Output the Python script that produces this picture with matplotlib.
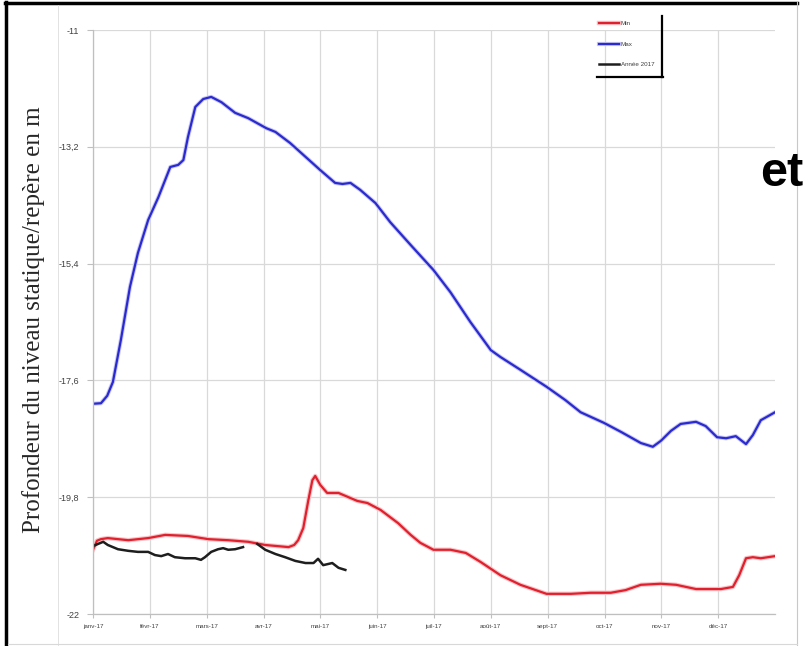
import matplotlib
matplotlib.use("Agg")
import matplotlib.pyplot as plt
import numpy as np
from matplotlib.lines import Line2D
import matplotlib.patheffects as pe

# ---------------- data (x in months since 1 Jan 2017) ----------------
month_labels = ["janv-17", "févr-17", "mars-17", "avr-17", "mai-17", "juin-17",
                "juil-17", "août-17", "sept-17", "oct-17", "nov-17", "déc-17"]
y_ticks = [-11, -13.2, -15.4, -17.6, -19.8, -22]
y_tick_labels = ["-11", "-13,2", "-15,4", "-17,6", "-19,8", "-22"]

max_x = [0, 0.14, 0.25, 0.35, 0.49, 0.65, 0.79, 0.97, 1.15, 1.36, 1.50, 1.59, 1.67,
         1.80, 1.94, 2.08, 2.26, 2.50, 2.73, 3.05, 3.21, 3.47, 3.74, 4.00, 4.26,
         4.39, 4.53, 4.70, 4.97, 5.23, 5.59, 5.99, 6.29, 6.64, 7.00, 7.17, 7.52,
         7.98, 8.31, 8.58, 8.99, 9.29, 9.64, 9.85, 9.99, 10.17, 10.34, 10.61,
         10.78, 10.98, 11.14, 11.31, 11.49, 11.61, 11.75, 12.0]
max_y = [-18.04, -18.03, -17.89, -17.63, -16.84, -15.84, -15.20, -14.58, -14.15,
         -13.58, -13.54, -13.45, -13.02, -12.45, -12.30, -12.26, -12.36, -12.56,
         -12.66, -12.85, -12.92, -13.13, -13.39, -13.64, -13.88, -13.90, -13.88,
         -14.01, -14.26, -14.62, -15.05, -15.52, -15.94, -16.50, -17.03, -17.16,
         -17.40, -17.72, -17.97, -18.20, -18.40, -18.57, -18.78, -18.85, -18.74,
         -18.55, -18.42, -18.38, -18.46, -18.67, -18.69, -18.65, -18.80, -18.63,
         -18.35, -18.20]

min_x = [0, 0.07, 0.14, 0.26, 0.62, 0.97, 1.27, 1.67, 2.03, 2.38, 2.73, 3.03, 3.44,
         3.54, 3.61, 3.70, 3.79, 3.86, 3.91, 4.00, 4.12, 4.32, 4.65, 4.83, 5.06,
         5.37, 5.59, 5.76, 5.99, 6.29, 6.56, 6.82, 7.17, 7.52, 7.98, 8.41, 8.76,
         9.11, 9.37, 9.64, 9.99, 10.26, 10.61, 11.05, 11.26, 11.37, 11.49, 11.61,
         11.75, 12.0]
min_y = [-20.79, -20.62, -20.59, -20.57, -20.61, -20.57, -20.51, -20.53, -20.59,
         -20.61, -20.64, -20.70, -20.74, -20.70, -20.61, -20.38, -19.85, -19.48,
         -19.40, -19.57, -19.72, -19.72, -19.87, -19.91, -20.04, -20.29, -20.51,
         -20.66, -20.79, -20.79, -20.85, -21.02, -21.27, -21.45, -21.62, -21.62,
         -21.60, -21.60, -21.55, -21.45, -21.43, -21.45, -21.53, -21.53, -21.49,
         -21.27, -20.95, -20.93, -20.95, -20.91]

y2017_x = [0, 0.09, 0.18, 0.26, 0.35, 0.44, 0.62, 0.79, 0.97, 1.09, 1.20, 1.32, 1.44,
           1.62, 1.80, 1.90, 1.97, 2.08, 2.20, 2.29, 2.38, 2.50, 2.64, 2.76, 2.89,
           3.03, 3.21, 3.38, 3.56, 3.74, 3.88, 3.96, 4.05, 4.21, 4.32, 4.44]
y2017_y = [-20.72, -20.68, -20.64, -20.70, -20.74, -20.78, -20.81, -20.83, -20.83,
           -20.89, -20.91, -20.87, -20.93, -20.95, -20.95, -20.98, -20.93, -20.83,
           -20.78, -20.76, -20.79, -20.78, -20.74, np.nan, -20.68, -20.79, -20.87,
           -20.93, -21.00, -21.04, -21.04, -20.96, -21.08, -21.04, -21.13, -21.17]

# ---------------- figure ----------------
W, H = 809, 646
fig = plt.figure(figsize=(W / 100, H / 100), dpi=100)
ax = fig.add_axes([93 / W, 1 - 614 / H, (775 - 93) / W, (614 - 30) / H])

ax.plot(min_x, min_y, color="#e0202c", lw=1.6, label="Min", solid_joinstyle="round",
        path_effects=[pe.Stroke(linewidth=3.2, foreground="#f6c4c8"), pe.Normal()])
ax.plot(max_x, max_y, color="#2a2ad0", lw=1.6, label="Max", solid_joinstyle="round",
        path_effects=[pe.Stroke(linewidth=3.0, foreground="#c8c8f0"), pe.Normal()])
ax.plot(y2017_x, y2017_y, color="#1e1e1e", lw=1.8, label="Année 2017",
        solid_joinstyle="round")

ax.set_xlim(0, 12)
ax.set_ylim(-22, -11)
ax.set_xticks(range(len(month_labels)))
ax.set_xticklabels(month_labels, fontsize=4.5, color="#404040",
                   family="Liberation Sans")
ax.set_yticks(y_ticks)
ax.set_yticklabels(y_tick_labels, fontsize=6.5, color="#404040",
                   family="Liberation Sans")
ax.tick_params(axis="x", direction="out", length=3, width=0.8, color="#bfbfbf", pad=4)
ax.tick_params(axis="y", direction="out", length=4, width=0.8, color="#bfbfbf", pad=6)
ax.grid(True, color="#d9d9d9", lw=0.9)
ax.set_axisbelow(True)
for s in ["top", "right"]:
    ax.spines[s].set_visible(False)
for s in ["left", "bottom"]:
    ax.spines[s].set_color("#bfbfbf")
    ax.spines[s].set_linewidth(0.9)

leg = ax.legend(loc="upper left", bbox_to_anchor=(599 / W, 1 - 21 / H),
                bbox_transform=fig.transFigure, frameon=False,
                handlelength=3.2, handletextpad=0.3, labelspacing=2.4,
                borderpad=0, borderaxespad=0, prop={"family": "Liberation Sans", "size": 4.5})
for t in leg.get_texts():
    t.set_color("#404040")

# legend shadow-like border
fig.add_artist(Line2D([662 / W, 662 / W], [1 - 16 / H, 1 - 77 / H], color="black", lw=1.6,
                      transform=fig.transFigure))
fig.add_artist(Line2D([597 / W, 663 / W], [1 - 77 / H, 1 - 77 / H], color="black", lw=1.6,
                      transform=fig.transFigure))

# y label
fig.text(34 / W, 1 - 320 / H, "Profondeur du niveau statique/repère en m",
         rotation=90, ha="center", va="center", fontsize=18,
         family="Liberation Serif", color="#262626")

# page frame decorations
fig.add_artist(Line2D([5 / W, 797 / W], [1 - 3 / H, 1 - 3 / H], color="black", lw=2.5,
                      transform=fig.transFigure))
fig.add_artist(Line2D([6 / W, 6 / W], [1 - 2 / H, 0], color="black", lw=2.5,
                      transform=fig.transFigure))
fig.add_artist(Line2D([797 / W, 797 / W], [1 - 2 / H, 0], color="#c8c8c8", lw=0.8,
                      transform=fig.transFigure))
fig.add_artist(Line2D([58 / W, 58 / W], [1 - 5 / H, 0], color="#dddddd", lw=0.6,
                      transform=fig.transFigure))
fig.add_artist(Line2D([8 / W, 797 / W], [1 - 644 / H, 1 - 644 / H], color="#d8d8d8", lw=0.8,
                      transform=fig.transFigure))

fig.text(760 / W, 1 - 186 / H, "et", fontsize=35, fontweight="bold",
         family="Liberation Sans", color="black", ha="left", va="baseline")

fig.savefig("out.png", dpi=100)
